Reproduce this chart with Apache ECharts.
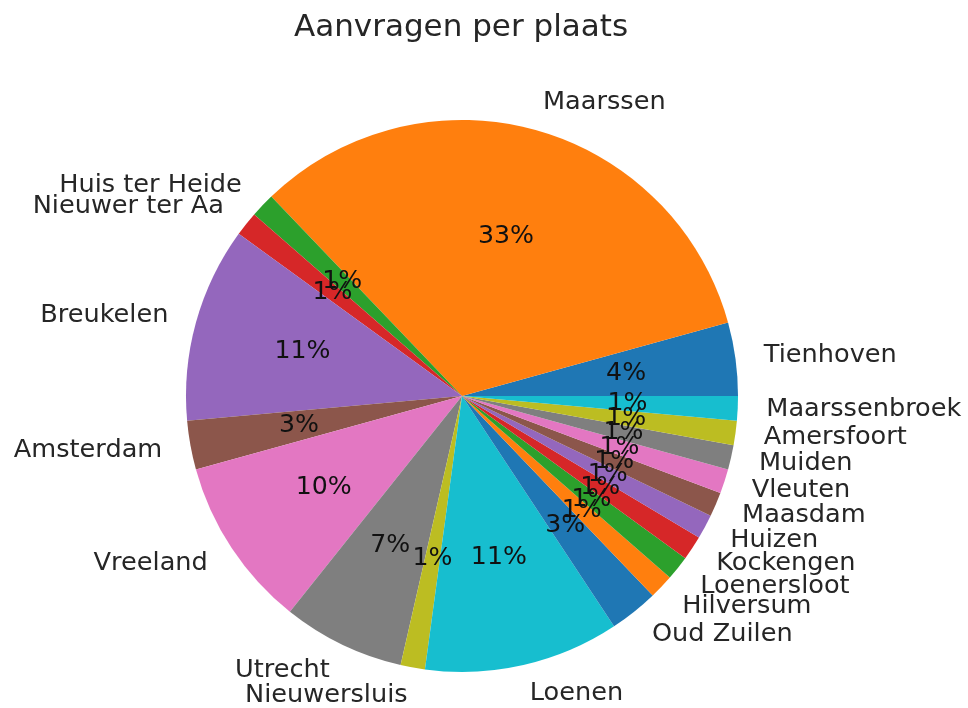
<!DOCTYPE html>
<html>
<head>
<meta charset="utf-8">
<script src="https://cdn.jsdelivr.net/npm/echarts@6/dist/echarts.min.js"></script>
<style>
  html, body { margin: 0; padding: 0; background: #ffffff; }
  #chart { width: 968px; height: 708px; }
</style>
</head>
<body>
<div id="chart"></div>
<script>
// aanvragen per plaats (counts)
const places = ['Tienhoven', 'Maarssen', 'Huis ter Heide', 'Nieuwer ter Aa', 'Breukelen',
  'Amsterdam', 'Vreeland', 'Utrecht', 'Nieuwersluis', 'Loenen', 'Oud Zuilen', 'Hilversum',
  'Loenersloot', 'Kockengen', 'Huizen', 'Maasdam', 'Vleuten', 'Muiden', 'Amersfoort', 'Maarssenbroek'];
const counts = [3, 23, 1, 1, 8, 2, 7, 5, 1, 8, 2, 1, 1, 1, 1, 1, 1, 1, 1, 1];
const palette = ['#1f77b4', '#ff7f0e', '#2ca02c', '#d62728', '#9467bd',
  '#8c564b', '#e377c2', '#7f7f7f', '#bcbd22', '#17becf'];

const R = 276
const font = 'DejaVu Sans'

const data = places.map(function (p, i) {
  return { name: p, value: counts[i], itemStyle: { color: palette[i % palette.length] } }
})

const chart = echarts.init(document.getElementById('chart'), null, { renderer: 'canvas' });

const option = {
  backgroundColor: '#ffffff',
  animation: false,
  title: {
    text: 'Aanvragen per plaats',
    left: 294,
    top: 12,
    padding: 0,
    textStyle: { fontFamily: font, fontSize: 31, fontWeight: 'normal', color: '#262626' }
  },
  series: [{
    type: 'pie',
    center: [462, 396],
    radius: [0, R],
    startAngle: 0,
    clockwise: false,
    avoidLabelOverlap: false,
    silent: true,
    itemStyle: { borderWidth: 0 },
    label: {
      show: true,
      position: 'outside',
      distanceToLabelLine: 0,
      fontFamily: font,
      fontSize: 25.6,
      color: '#262626'
    },
    labelLayout: { hideOverlap: false },
    labelLine: { show: false, length: R * 0.1 + 1, length2: 0 },
    data: data
  }, {
    // percentages at 0.6 R
    type: 'pie',
    center: [462, 396],
    radius: [R * 0.2 - 6, R],
    startAngle: 0,
    clockwise: false,
    avoidLabelOverlap: false,
    silent: true,
    itemStyle: { color: 'rgba(0,0,0,0)', borderWidth: 0 },
    label: {
      show: true,
      position: 'inside',
      fontFamily: font,
      fontSize: 25.2,
      color: '#111111',
      formatter: function (p) { return Math.round(p.percent) + '%' }
    },
    labelLayout: { hideOverlap: false },
    labelLine: { show: false },
    data: places.map(function (p, i) { return { name: p, value: counts[i] } })
  }]
};

chart.setOption(option);
</script>
</body>
</html>
